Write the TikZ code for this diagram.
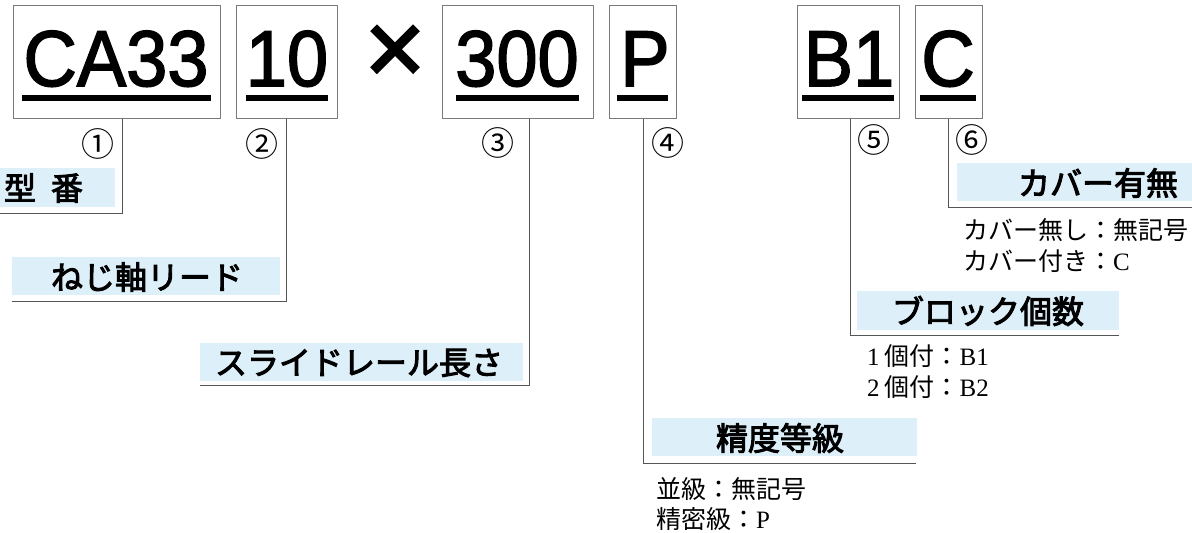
\documentclass[tikz,border=0pt]{standalone}
\usepackage{fontspec}
\setmainfont{Liberation Sans}
\newfontfamily\jp{Noto Sans CJK JP}
\newfontfamily\jpm[FakeBold=3]{Noto Sans CJK JP}
\newfontfamily\codefont[FakeBold=2]{Liberation Sans}
\newfontfamily\lser{Liberation Serif}
\usetikzlibrary{calc}
\definecolor{lblue}{HTML}{DDEFF9}
\definecolor{frame}{HTML}{7A7A7A}
\definecolor{conn}{HTML}{555555}
\begin{document}
\begin{tikzpicture}[x=1pt,y=-1pt,
  codebox/.style={draw=frame, line width=1pt, inner sep=0pt, fill=white},
  codetxt/.style={inner sep=0pt, anchor=base, font=\fontsize{74}{74}\codefont},
  uline/.style={fill=black},
  lab/.style={fill=lblue, inner sep=0pt},
  labtxt/.style={inner sep=0pt, font=\fontsize{32}{32}\jpm},
  conn/.style={draw=conn, line width=1pt},
  circ/.style={inner sep=0pt, font=\fontsize{33}{33}\jp},
  sub/.style={inner sep=0pt, anchor=west, font=\fontsize{25}{25}\jp}
]
\useasboundingbox (0,0) rectangle (1192,533);
% code boxes
\node[codebox, minimum width=207, minimum height=113] (bCA) at (116.5,61.5) {};
\node[codebox, minimum width=101, minimum height=113] (bTen) at (286.5,61.5) {};
\node[codebox, minimum width=151, minimum height=113] (bThr) at (517.5,61.5) {};
\node[codebox, minimum width=67, minimum height=113] (bP) at (642.5,61.5) {};
\node[codebox, minimum width=102, minimum height=113] (bB) at (848,61.5) {};
\node[codebox, minimum width=67, minimum height=113] (bC) at (948.5,61.5) {};
% code texts
\node[codetxt] (tCA) at (116,86) {\scalebox{1}[1.07]{CA33}};
\node[codetxt] (tTen) at (287,86) {\scalebox{1}[1.07]{10}};
\node[codetxt] (tThr) at (517,86) {\scalebox{1}[1.07]{300}};
\node[codetxt] (tP) at (645,86) {\scalebox{1}[1.07]{P}};
\node[codetxt] (tB) at (849,86) {\scalebox{1}[1.07]{B1}};
\node[codetxt] (tC) at (948,86) {\scalebox{1}[1.07]{C}};
\node[inner sep=0pt, font=\fontsize{105}{105}\codefont] (times) at (395,55) {×};
% underlines
\fill[uline] (22,95) rectangle (211,101);
\fill[uline] (246,95) rectangle (328,101);
\fill[uline] (456,95) rectangle (579,101);
\fill[uline] (617,95) rectangle (668,101);
\fill[uline] (802,95) rectangle (894,101);
\fill[uline] (920,95) rectangle (976,101);
% circled numbers
\node[circ] (n1) at (98,144) {①};
\node[circ] (n2) at (262,144) {②};
\node[circ] (n3) at (498,143) {③};
\node[circ] (n4) at (668,143) {④};
\node[circ] (n5) at (874,140) {⑤};
\node[circ] (n6) at (972,140) {⑥};
% label backgrounds
\node[lab, minimum width=115, minimum height=39] (l1) at (57.5,187.5) {};
\node[lab, minimum width=268, minimum height=38] (l2) at (146,276) {};
\node[lab, minimum width=323, minimum height=38] (l3) at (361.5,362) {};
\node[lab, minimum width=265, minimum height=38] (l4) at (784.5,437) {};
\node[lab, minimum width=262, minimum height=39] (l5) at (988,310) {};
\node[lab, minimum width=235, minimum height=38] (l6) at (1074.5,182) {};
% label texts
\node[labtxt] (x1) at (43.5,188) {型\hspace{15pt}番};
\node[labtxt] (x2) at (147,277) {ねじ軸リード};
\node[labtxt] (x3) at (359,363) {スライドレール長さ};
\node[labtxt] (x4) at (780,438) {精度等級};
\node[labtxt] (x5) at (988,311) {ブロック個数};
\node[labtxt] (x6) at (1098,183) {カバー有無};
% connector end points
\coordinate (e1) at (0,213.5);
\coordinate (e2) at (12,301.5);
\coordinate (e3) at (200,385.5);
\coordinate (e4) at (916,463);
\coordinate (e5) at (1119,335.5);
\coordinate (e6) at (1192,207.5);
\draw[conn] ($(bCA.south)+(5.5,0)$) |- (e1);
\draw[conn] (bTen.south) |- (e2);
\draw[conn] ($(bThr.south)+(11.5,0)$) |- (e3);
\draw[conn] ($(bP.south)+(1,0)$) |- (e4);
\draw[conn] ($(bB.south)+(2,0)$) |- (e5);
\draw[conn] (bC.south) |- (e6);
% sub texts
\node[sub] (s61) at (963,230) {カバー無し：無記号};
\node[sub] (s62) at (963,261) {カバー付き：{\lser C}};
\node[sub] (s51) at (867,356) {{\lser 1}\hspace{5pt}個付：{\lser B1}};
\node[sub] (s52) at (867,387) {{\lser 2}\hspace{5pt}個付：{\lser B2}};
\node[sub] (s41) at (656,489) {並級：無記号};
\node[sub] (s42) at (656,519) {精密級：{\lser P}};
\end{tikzpicture}
\end{document}
